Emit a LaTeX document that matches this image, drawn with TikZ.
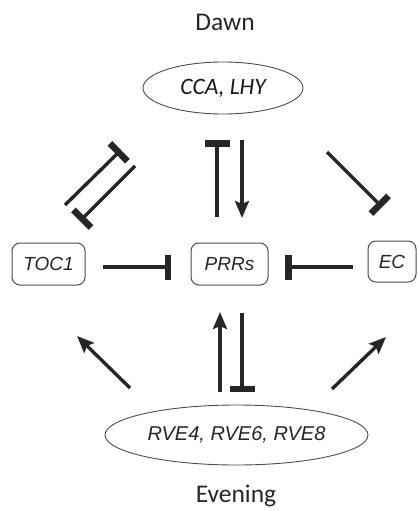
\documentclass[tikz,border=0pt]{standalone}
\usepackage{fontspec}
\setmainfont{Carlito}
\newfontfamily\arialf{Liberation Sans}
\usetikzlibrary{arrows.meta,shapes.geometric}
\begin{document}
\begin{tikzpicture}[x=1pt,y=-1pt,
  gene/.style={draw=black!70,line width=1pt,rounded corners=8pt,minimum height=42pt,inner sep=0pt,font=\arialf\itshape\fontsize{19}{21}\selectfont,text=black!85},
  oval/.style={draw=black!70,line width=0.9pt,ellipse,inner sep=0pt},
  phase/.style={font=\fontsize{25.5}{28}\selectfont,text=black!85},
  inh/.style={line width=3.4pt,draw=black!85,-{Rectangle[width=25pt,length=6.5pt]}},
  act/.style={line width=3.4pt,draw=black!85,-{Stealth[width=14pt,length=17pt,inset=3pt]}}]
\useasboundingbox (0,0) rectangle (418,511);

\node[phase] (dawn) at (225,22) {Dawn};
\node[phase] (evening) at (236,496) {Evening};

\node[oval,minimum width=160pt,minimum height=52pt,font=\itshape\fontsize{23.5}{26}\selectfont,text=black!90] (cca) at (223,88) {CCA, LHY};
\node[oval,minimum width=263pt,minimum height=60pt,font=\arialf\itshape\fontsize{20}{22}\selectfont,text=black!85] (rve) at (236.5,435) {RVE4, RVE6, RVE8};

\node[gene,minimum width=73pt] (toc1) at (48.5,264) {TOC1};
\node[gene,minimum width=77pt] (prrs) at (229.5,264) {PRRs};
\node[gene,minimum width=48pt,minimum height=41pt] (ec) at (392,261.5) {EC};

% endpoints
\coordinate (t1a) at (217,217); \coordinate (t1b) at (217,140);
\coordinate (t2a) at (242,140); \coordinate (t2b) at (242,218);
\coordinate (l1a) at (65,205);  \coordinate (l1b) at (121,150);
\coordinate (l2a) at (135,166); \coordinate (l2b) at (80,221);
\coordinate (r1a) at (327,152); \coordinate (r1b) at (382,207);
\coordinate (h1a) at (103,267); \coordinate (h1b) at (171,267);
\coordinate (h2a) at (353,267); \coordinate (h2b) at (285,267);
\coordinate (b1a) at (130,388); \coordinate (b1b) at (77,336);
\coordinate (b2a) at (220,392); \coordinate (b2b) at (220,312);
\coordinate (b3a) at (242,313); \coordinate (b3b) at (242,392);
\coordinate (b4a) at (332,389); \coordinate (b4b) at (386,337);

\draw[inh] (t1a) -- (t1b);
\draw[act] (t2a) -- (t2b);
\draw[inh] (l1a) -- (l1b);
\draw[inh] (l2a) -- (l2b);
\draw[inh] (r1a) -- (r1b);
\draw[inh] (h1a) -- (h1b);
\draw[inh] (h2a) -- (h2b);
\draw[act] (b1a) -- (b1b);
\draw[act] (b2a) -- (b2b);
\draw[inh] (b3a) -- (b3b);
\draw[act] (b4a) -- (b4b);
\end{tikzpicture}
\end{document}
